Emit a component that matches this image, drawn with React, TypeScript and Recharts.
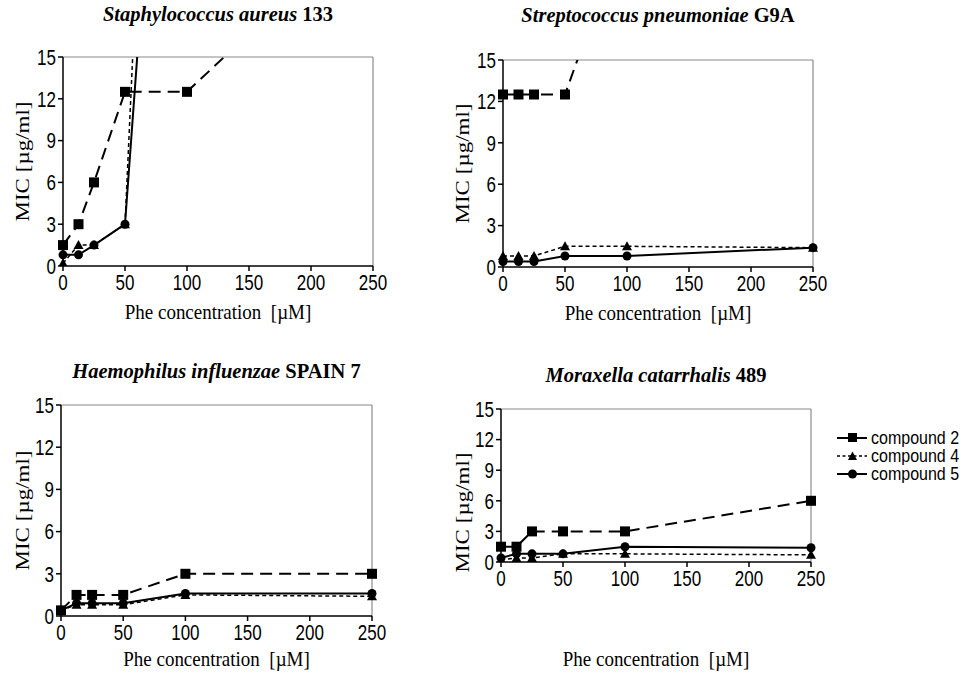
import React from 'react';
import { LineChart, Line, XAxis, YAxis, ReferenceLine, Legend } from 'recharts';

// Phe concentration (µM), shared by every panel
const phe = [0, 12.5, 25, 50, 100, 250];
const xTicks = [0, 50, 100, 150, 200, 250];
const yTicks = [0, 3, 6, 9, 12, 15];

// MIC values (µg/ml) per organism and compound
const aureusC2 = [1.5, 3, 6, 12.5, 12.5, 25];
const aureusC4 = [0.2, 1.5, 1.5, 3, 100, 100];
const aureusC5 = [0.8, 0.8, 1.5, 3, 64, 64];

const pneumoC2 = [12.5, 12.5, 12.5, 12.5, 25, 50];
const pneumoC4 = [0.8, 0.8, 0.8, 1.5, 1.5, 1.4];
const pneumoC5 = [0.4, 0.4, 0.4, 0.8, 0.8, 1.4];

const haemoC2 = [0.4, 1.5, 1.5, 1.5, 3, 3];
const haemoC4 = [0.4, 0.8, 0.8, 0.8, 1.5, 1.4];
const haemoC5 = [0.4, 0.9, 0.9, 0.9, 1.6, 1.6];

const moraxC2 = [1.5, 1.5, 3, 3, 3, 6];
const moraxC4 = [0.2, 0.4, 0.4, 0.8, 0.8, 0.7];
const moraxC5 = [0.4, 0.8, 0.8, 0.8, 1.5, 1.4];

const compoundNames = ['compound 2', 'compound 4', 'compound 5'];

const buildRows = (c2: number[], c4: number[], c5: number[]) =>
  phe.map((x, i) => ({ x, c2: c2[i], c4: c4[i], c5: c5[i] }));

const SERIF = '"Liberation Serif", "Times New Roman", serif';
const SANS = '"Liberation Sans", Arial, sans-serif';

function SquareDot(props: any) {
  const { cx, cy } = props;
  if (cx == null || cy == null) return null;
  return <rect x={cx - 5} y={cy - 5} width={10} height={10} fill="#000" />;
}

function TriangleDot(props: any) {
  const { cx, cy } = props;
  if (cx == null || cy == null) return null;
  return <path d={`M${cx},${cy - 5} L${cx + 5},${cy + 4} L${cx - 5},${cy + 4} Z`} fill="#000" />;
}

function CircleDot(props: any) {
  const { cx, cy } = props;
  if (cx == null || cy == null) return null;
  return <circle cx={cx} cy={cy} r={4.5} fill="#000" />;
}

// tick labels are a little taller than wide in the original print
function XTick(props: any) {
  const { x, y, payload } = props;
  return (
    <g transform={`translate(${x},${y}) scale(1,1.28)`}>
      <text x={0} y={0} dy="0.78em" textAnchor="middle" fontFamily={SANS} fontSize={17} fill="#000">
        {payload.value}
      </text>
    </g>
  );
}

function YTick(props: any) {
  const { x, y, payload } = props;
  return (
    <g transform={`translate(${x},${y}) scale(1,1.28)`}>
      <text x={0} y={0} dy="0.36em" textAnchor="end" fontFamily={SANS} fontSize={17} fill="#000">
        {payload.value}
      </text>
    </g>
  );
}

function YLabelText(props: any) {
  const { px, py } = props;
  return (
    <text
      x={px}
      y={py}
      transform={`rotate(-90 ${px} ${py})`}
      textAnchor="middle"
      dominantBaseline="central"
      fontFamily={SERIF}
      fontSize={19}
      textLength={120}
      lengthAdjust="spacingAndGlyphs"
      fill="#000"
    >
      MIC [µg/ml]
    </text>
  );
}

function XLabelText(props: any) {
  const { px, py } = props;
  return (
    <g transform={`translate(${px},${py}) scale(1,1.15)`}>
      <text
        x={0}
        y={0}
        textAnchor="middle"
        dominantBaseline="central"
        fontFamily={SERIF}
        fontSize={19}
        fill="#000"
        style={{ whiteSpace: 'pre' }}
      >
        {'Phe concentration  [µM]'}
      </text>
    </g>
  );
}

function LegendIcon({ kind }: { kind: number }) {
  return (
    <svg width={32} height={12} style={{ display: 'block' }}>
      {kind === 0 && <line x1={1} y1={6} x2={31} y2={6} stroke="#000" strokeWidth={2} />}
      {kind === 1 && <line x1={1} y1={6} x2={31} y2={6} stroke="#000" strokeWidth={1.5} strokeDasharray="3 2.5" />}
      {kind === 2 && <line x1={1} y1={6} x2={31} y2={6} stroke="#000" strokeWidth={2} />}
      {kind === 0 && <rect x={12} y={1} width={9} height={9} fill="#000" />}
      {kind === 1 && <path d="M16.5,1.5 L21,10 L12,10 Z" fill="#000" />}
      {kind === 2 && <circle cx={16.5} cy={6} r={4.5} fill="#000" />}
    </svg>
  );
}

function LegendBox() {
  return (
    <div style={{ fontFamily: SANS, fontSize: 16, color: '#000' }}>
      {compoundNames.map((name, i) => (
        <div key={name} style={{ display: 'flex', alignItems: 'center', height: 18 }}>
          <LegendIcon kind={i} />
          <span style={{ marginLeft: 3, display: 'inline-block', transform: 'scaleY(1.1)' }}>{name}</span>
        </div>
      ))}
    </div>
  );
}

interface PanelProps {
  species: string;
  strain: string;
  rows: { x: number; c2: number; c4: number; c5: number }[];
  left: number;
  top: number;
  titleCy: number;
  plotLeft: number;
  plotTop: number;
  plotW: number;
  plotH: number;
  xLabelGap: number;
  width?: number;
  legend?: boolean;
}

function Panel({
  species, strain, rows, left, top, titleCy, plotLeft, plotTop, plotW, plotH, xLabelGap, width = 440, legend,
}: PanelProps) {
  const height = 340;
  const yAxisW = 40;
  const xAxisH = 60;
  const mLeft = plotLeft - yAxisW;
  const mTop = plotTop;
  const mRight = width - plotLeft - plotW;
  const mBottom = height - plotTop - plotH - xAxisH;

  return (
    <div style={{ position: 'absolute', left, top, width, height }}>
      <div
        style={{
          position: 'absolute',
          left: plotLeft - 180 + plotW / 2,
          width: 360,
          top: titleCy - 12,
          height: 24,
          lineHeight: '24px',
          textAlign: 'center',
          fontFamily: SERIF,
          fontWeight: 'bold',
          fontSize: 20.5,
          color: '#000',
          whiteSpace: 'nowrap',
        }}
      >
        <i>{species}</i> {strain}
      </div>
      <LineChart
        width={width}
        height={height}
        data={rows}
        margin={{ top: mTop, right: mRight, bottom: mBottom, left: mLeft }}
      >
        <XAxis
          dataKey="x"
          type="number"
          domain={[0, 250]}
          ticks={xTicks}
          interval={0}
          tick={<XTick />}
          tickSize={5}
          tickMargin={2}
          height={xAxisH}
          stroke="#000"
          strokeWidth={1.5}
          label={<XLabelText px={plotLeft + plotW / 2} py={plotTop + plotH + xLabelGap} />}
        />
        <YAxis
          type="number"
          domain={[0, 15]}
          ticks={yTicks}
          interval={0}
          allowDataOverflow
          tick={<YTick />}
          tickSize={5}
          tickMargin={2}
          width={yAxisW}
          stroke="#000"
          strokeWidth={1.5}
          label={<YLabelText px={22} py={plotTop + plotH / 2} />}
        />
        <ReferenceLine y={15} stroke="#888" strokeWidth={1} />
        <ReferenceLine x={250} stroke="#777" strokeWidth={1} />
        <Line
          dataKey="c2"
          name={compoundNames[0]}
          stroke="#000"
          strokeWidth={2}
          strokeDasharray="12 7"
          dot={<SquareDot />}
          activeDot={false}
          isAnimationActive={false}
        />
        <Line
          dataKey="c4"
          name={compoundNames[1]}
          stroke="#000"
          strokeWidth={1.5}
          strokeDasharray="4 3"
          dot={<TriangleDot />}
          activeDot={false}
          isAnimationActive={false}
        />
        <Line
          dataKey="c5"
          name={compoundNames[2]}
          stroke="#000"
          strokeWidth={2}
          dot={<CircleDot />}
          activeDot={false}
          isAnimationActive={false}
        />
        {legend && (
          <Legend
            content={<LegendBox />}
            wrapperStyle={{ position: 'absolute', left: 396, top: 81, width: 130 }}
          />
        )}
      </LineChart>
    </div>
  );
}

export default function App() {
  return (
    <div style={{ position: 'absolute', left: 0, top: 0, width: 962, height: 673, background: '#fff', overflow: 'hidden' }}>
      <Panel
        species="Staphylococcus aureus"
        strain="133"
        rows={buildRows(aureusC2, aureusC4, aureusC5)}
        left={0}
        top={0}
        titleCy={14}
        plotLeft={63}
        plotTop={57}
        plotW={310}
        plotH={209}
        xLabelGap={46}
      />
      <Panel
        species="Streptococcus pneumoniae"
        strain="G9A"
        rows={buildRows(pneumoC2, pneumoC4, pneumoC5)}
        left={440}
        top={0}
        titleCy={15}
        plotLeft={63}
        plotTop={60}
        plotW={310}
        plotH={207}
        xLabelGap={46}
      />
      <Panel
        species="Haemophilus influenzae"
        strain="SPAIN 7"
        rows={buildRows(haemoC2, haemoC4, haemoC5)}
        left={0}
        top={348}
        titleCy={23}
        plotLeft={61}
        plotTop={57}
        plotW={311}
        plotH={211}
        xLabelGap={43}
      />
      <Panel
        species="Moraxella catarrhalis"
        strain="489"
        rows={buildRows(moraxC2, moraxC4, moraxC5)}
        left={440}
        top={348}
        titleCy={27}
        plotLeft={61}
        plotTop={61}
        plotW={310}
        plotH={207}
        xLabelGap={43}
        width={522}
        legend
      />
    </div>
  );
}
